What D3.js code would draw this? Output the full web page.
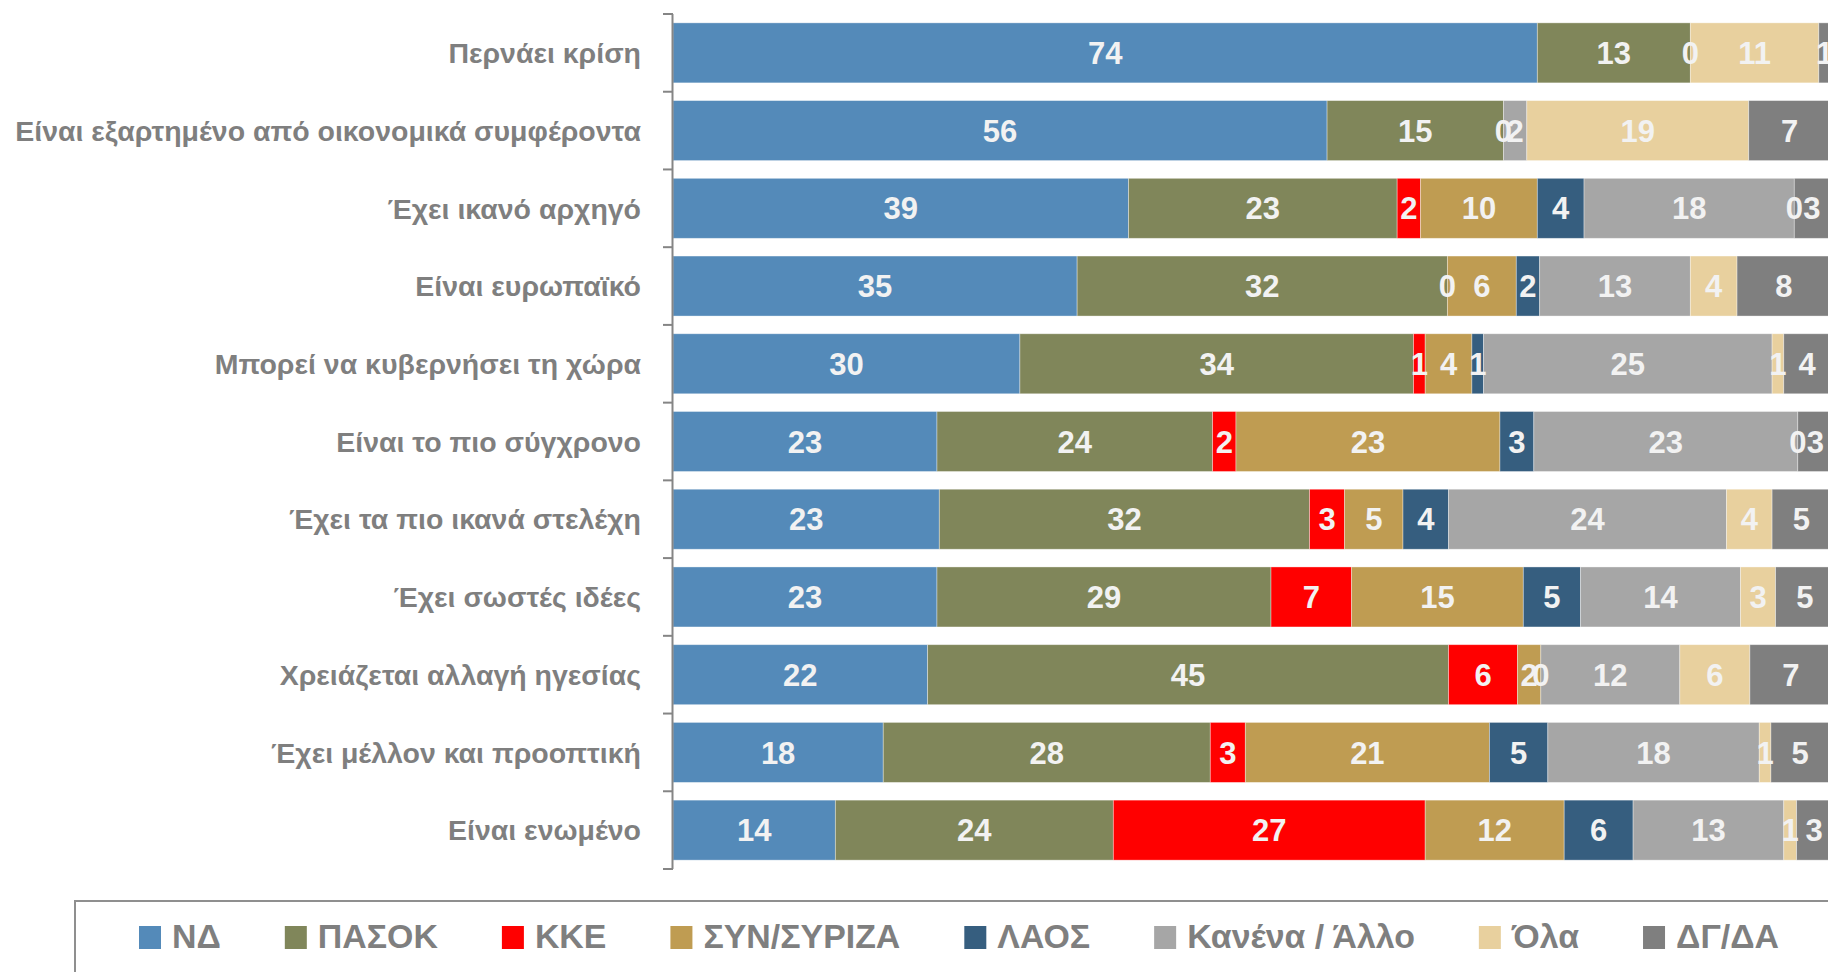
<!DOCTYPE html>
<html>
<head>
<meta charset="utf-8">
<script src="https://cdn.jsdelivr.net/npm/d3@7"></script>
<style>
  html, body { margin: 0; padding: 0; background: #ffffff; overflow: hidden; }
  svg { display: block; }
</style>
</head>
<body>
<svg id="chart" width="1828" height="972"></svg>
<script>
// ---- DATA ----
const categories = [
  "Περνάει κρίση",
  "Είναι εξαρτημένο από οικονομικά συμφέροντα",
  "Έχει ικανό αρχηγό",
  "Είναι ευρωπαϊκό",
  "Μπορεί να κυβερνήσει τη χώρα",
  "Είναι το πιο σύγχρονο",
  "Έχει τα πιο ικανά στελέχη",
  "Έχει σωστές ιδέες",
  "Χρειάζεται αλλαγή ηγεσίας",
  "Έχει μέλλον και προοπτική",
  "Είναι ενωμένο"
];
const seriesNames = ["ΝΔ", "ΠΑΣΟΚ", "ΚΚΕ", "ΣΥΝ/ΣΥΡΙΖΑ", "ΛΑΟΣ", "Κανένα / Άλλο", "Όλα", "ΔΓ/ΔΑ"];
// values (%); labels show them rounded
const ND      = [74.0, 56.0, 39.0, 34.6, 29.7, 22.6, 22.8, 22.6, 21.8, 18.0, 13.9];
const PASOK   = [13.1, 15.1, 23.0, 31.7, 33.7, 23.6, 31.7, 28.6, 44.6, 28.0, 23.8];
const KKE     = [0, 0, 2.0, 0, 1.0, 2.0, 3.0, 6.9, 5.9, 3.0, 26.7];
const SYN     = [null, null, 10.0, 5.9, 4.0, 22.6, 5.0, 14.7, 2.0, 20.9, 11.9];
const LAOS    = [null, null, 4.0, 2.0, 1.0, 2.9, 3.9, 4.9, 0, 5.0, 5.9];
const KANENA  = [null, 2.0, 18.0, 12.9, 24.7, 22.6, 23.8, 13.7, 11.9, 18.1, 12.9];
const OLA     = [11.0, 19.0, 0, 4.0, 1.0, 0, 3.9, 3.0, 6.0, 1.0, 1.1];
const DGDA    = [1.0, 7.0, 3.0, 8.0, 4.0, 3.0, 5.0, 5.0, 7.0, 5.0, 3.0];
const seriesValues = [ND, PASOK, KKE, SYN, LAOS, KANENA, OLA, DGDA];
const seriesColors = ["#548ab9", "#80865a", "#ff0000", "#bf9c52", "#365e7f", "#a6a6a6", "#e8d09e", "#7f7f7f"];
const xDomain = [0, 100];

// ---- LAYOUT ----
const svg = d3.select("#chart");
const axisX = 673;
const plotTop = 14, plotBottom = 869;
const font = "'Liberation Sans', Arial, sans-serif";

const x = d3.scaleLinear().domain(xDomain).range([axisX, axisX + 1168]);
const y = d3.scaleBand().domain(categories).range([plotTop, plotBottom]).paddingInner(0.228).paddingOuter(0.114);

const rows = categories.map((c, i) => {
  const r = { cat: c };
  seriesNames.forEach((s, j) => { r[s] = seriesValues[j][i]; });
  return r;
});
const stack = d3.stack().keys(seriesNames).value((d, k) => d[k] == null ? 0 : d[k]);
const stacked = stack(rows);
const fmt = v => String(Math.round(v));

svg.append("clipPath").attr("id", "clip").append("rect")
  .attr("x", 0).attr("y", 0).attr("width", 1828).attr("height", 972);

const g = svg.append("g").attr("clip-path", "url(#clip)");
stacked.forEach((layer, j) => {
  g.append("g").selectAll("rect")
    .data(layer.filter(d => d.data[seriesNames[j]] != null && d.data[seriesNames[j]] > 0))
    .join("rect")
    .attr("x", d => x(d[0]))
    .attr("y", d => y(d.data.cat))
    .attr("width", d => x(d[1]) - x(d[0]))
    .attr("height", y.bandwidth())
    .attr("fill", seriesColors[j])
    .attr("stroke", "#ffffff")
    .attr("stroke-opacity", 0.45)
    .attr("stroke-width", 0.8);
});
stacked.forEach((layer, j) => {
  g.append("g").selectAll("text")
    .data(layer.filter(d => d.data[seriesNames[j]] != null))
    .join("text")
    .attr("x", d => (x(d[0]) + x(d[1])) / 2)
    .attr("y", d => y(d.data.cat) + y.bandwidth() / 2)
    .attr("dy", "0.36em")
    .attr("text-anchor", "middle")
    .attr("font-family", font)
    .attr("font-weight", "bold")
    .attr("font-size", 31)
    .attr("fill", "#f2f2f2")
    .text(d => fmt(d.data[seriesNames[j]]));
});

// category axis
const axisColor = "#858585";
svg.append("line").attr("x1", axisX - 0.5).attr("x2", axisX - 0.5)
  .attr("y1", plotTop).attr("y2", plotBottom)
  .attr("stroke", axisColor).attr("stroke-width", 2);
const tickYs = d3.range(categories.length + 1).map(i => plotTop + i * (plotBottom - plotTop) / categories.length);
svg.append("g").selectAll("line").data(tickYs).join("line")
  .attr("x1", axisX - 10).attr("x2", axisX)
  .attr("y1", d => d).attr("y2", d => d)
  .attr("stroke", axisColor).attr("stroke-width", 2);

// category labels
const labs = svg.append("g").selectAll("text").data(categories).join("text")
  .attr("x", 641)
  .attr("y", d => y(d) + y.bandwidth() / 2)
  .attr("dy", "0.36em")
  .attr("text-anchor", "end")
  .attr("font-family", font)
  .attr("font-weight", "bold")
  .attr("font-size", 26)
  .attr("fill", "#7f7f7f")
  .text(d => d);
let maxW = 0;
labs.each(function() { maxW = Math.max(maxW, this.getComputedTextLength()); });
const labFs = Math.max(20, Math.min(32, 26 * 626 / maxW));
labs.attr("font-size", labFs);

// legend
svg.append("rect").attr("x", 75).attr("y", 901).attr("width", 1900).attr("height", 200)
  .attr("fill", "none").attr("stroke", "#8f8f8f").attr("stroke-width", 2);
const legG = svg.append("g");
const probe = legG.append("text").attr("font-family", font).attr("font-weight", "bold")
  .attr("font-size", 32).text(seriesNames[3]);
const legFs = Math.max(24, Math.min(38, 32 * 197 / probe.node().getComputedTextLength()));
probe.remove();
let lx = 139;
seriesNames.forEach((s, j) => {
  legG.append("rect").attr("x", lx).attr("y", 926).attr("width", 22).attr("height", 23)
    .attr("fill", seriesColors[j]);
  const t = legG.append("text").attr("x", lx + 33).attr("y", 948)
    .attr("font-family", font).attr("font-weight", "bold").attr("font-size", legFs)
    .attr("fill", "#7f7f7f").text(s);
  lx += 33 + t.node().getComputedTextLength() + 64;
});
</script>
</body>
</html>
